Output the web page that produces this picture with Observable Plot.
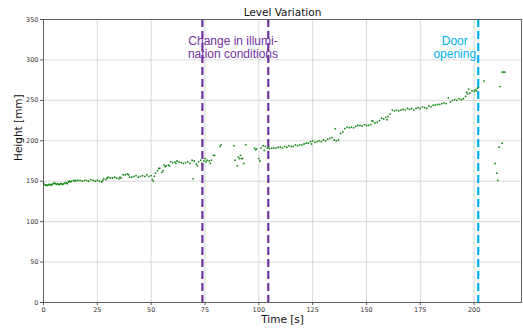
<!DOCTYPE html>
<html><head><meta charset="utf-8">
<script src="https://cdn.jsdelivr.net/npm/d3@7"></script>
<script src="https://cdn.jsdelivr.net/npm/@observablehq/plot@0.6"></script>
<style>
body{margin:0;background:#fff;}
#chart svg{font-family:"DejaVu Sans",sans-serif;background:#fff;}
</style>
</head><body><div id="chart"></div>
<script>
const time = [0,0.5,1,1.5,2,2.5,3,3.5,4,4.5,5,5.5,6,6.5,7,7.5,8,8.5,9,9.5,10,10.5,11,11.5,12,12.5,13,14,14.5,15,16,17,18,19,20,21,22,23,24,25,26,27,27.5,28,29,29.5,30,31,32,33,34,35,35.5,36,37,38,39,39.5,40,41,42,43,44,45,46,47,48,49,50,50.5,51,51.5,52,53,53.5,54,55,55.5,56,56.5,57,58,58.5,59,60,61,61.5,62,63,64,65,66,67,68,69,69.5,70,71,71.5,72,73,73.5,74,74.5,75,75.5,76,77,77.5,78,79,79.5,82,82.5,88.5,89,90,90.5,91,91.5,92,92.5,93,94,98,98.5,99,100,100.5,101,102,102.5,103,104,104.5,105,106,107,108,109,110,111,112,113,114,115,116,117,118,119,120,121,122,123,124,124.5,125,126,127,128,129,130,131,132,133,134,135,135.5,136,137,138,139,140,141,142,143,144,145,146,147,148,149,150,151,152,152.5,153,154,155,156,157,158,159,159.5,160,161,162,163,164,165,166,167,168,169,170,171,172,173,174,175,176,177,178,179,180,181,182,183,184,185,186,187,188,189,190,191,192,193,194,195,196,196.5,197,197.5,198,199,200,200.5,201,201.5,202,204.5,209.7,210.5,211,211.6,212,213,213,213.7,214.3];
const heightMm = [148,146,145,145,145,146,146,145,146,147,148,147,146,147,146,146,147,147,146,147,148,148,147,149,150,149,150,151,150,151,151,151,150,151,151,150,152,151,150,151,150,149,151,153,152,154,155,154,154,155,154,153,155,154,158,158,159,158,155,155,156,157,155,156,157,156,158,156,157,152,150,156,160,163,166,166,161,163,170,168,169,170,169,174,173,174,172,175,174,173,172,173,174,172,176,153,175,171,169,174,176,172,170,175,178,174,176,175,172,176,182,182,193,195,194,176,169,180,178,182,178,178,172,195,191,189,190,178,175,191,194,188,193,191,192,190,191,191,191,192,192,191,193,192,194,193,193,195,194,195,195,196,197,197,199,196,200,198,199,200,199,201,200,202,203,204,201,215,200,201,209,211,215,217,216,217,216,218,219,219,218,220,219,219,220,225,224,222,223,225,228,227,229,226,230,233,238,237,238,237,238,239,238,240,239,240,238,240,241,240,242,241,240,243,242,244,244,245,245,246,247,246,253,248,250,251,250,252,251,252,255,260,258,264,259,262,261,263,262,265,266,274,172,160,151,192,267,197,285,285,285];
const xTicks = [0,25,50,75,100,125,150,175,200];
const yTicks = [0,50,100,150,200,250,300,350];
const eventTimes = [73.8,104.4,201.9];
const eventColors = ["#7030a0","#7030a0","#00b0f0"];
const noteText = ["Change in illumi-\nnation conditions","Door\nopening"];
const noteTime = [88,191];
const noteHeight = [331,331];
const noteColors = ["#7030a0","#00b0f0"];

const points = time.map((t,i)=>({t, h: heightMm[i]}));
const events = eventTimes.map((t,i)=>({t, c: eventColors[i]}));
const notes = noteText.map((s,i)=>({s, t: noteTime[i], h: noteHeight[i], c: noteColors[i]}));

const chart = Plot.plot({
  width: 523, height: 329,
  marginLeft: 43, marginRight: 2, marginTop: 19, marginBottom: 27,
  style: {fontSize: "6.5px", color: "#333"},
  x: {domain: [0,222], ticks: xTicks, tickSize: 3, tickPadding: 2, label: null},
  y: {domain: [0,350], ticks: yTicks, tickSize: 3, tickPadding: 2, label: null},
  marks: [
    Plot.gridX(xTicks, {stroke: "#cfcfcf", strokeOpacity: 1, strokeWidth: 0.8}),
    Plot.gridY(yTicks, {stroke: "#cfcfcf", strokeOpacity: 1, strokeWidth: 0.8}),
    Plot.axisX(xTicks, {tickSize: 3, tickPadding: 2, stroke: "#555", fill: "#333", label: null}),
    Plot.axisY(yTicks, {tickSize: 3, tickPadding: 2, stroke: "#555", fill: "#333", label: null}),
    Plot.dot(points, {x: "t", y: "h", r: 0.9, fill: "#118811", stroke: null}),
    Plot.ruleX(events, {x: "t", stroke: "c", strokeWidth: 2.2, strokeDasharray: "8,4"}),
    Plot.text(notes, {x: "t", y: "h", text: "s", fill: "c", fontSize: 12, fontFamily: "Liberation Sans, Arial, sans-serif", lineAnchor: "top", lineHeight: 1.15, textAnchor: "middle"}),
    Plot.frame({stroke: "#555", strokeWidth: 0.9}),
    Plot.text(["Level Variation"], {frameAnchor: "top", lineAnchor: "middle", dy: -7, fontSize: 10.5, fill: "#111"}),
    Plot.text(["Time [s]"], {frameAnchor: "bottom", lineAnchor: "middle", dy: 17, fontSize: 10.5, fill: "#111"}),
    Plot.text(["Height [mm]"], {frameAnchor: "left", dx: -25, rotate: -90, fontSize: 10.5, fill: "#111"})
  ]
});
document.getElementById("chart").appendChild(chart);
</script>
</body></html>
